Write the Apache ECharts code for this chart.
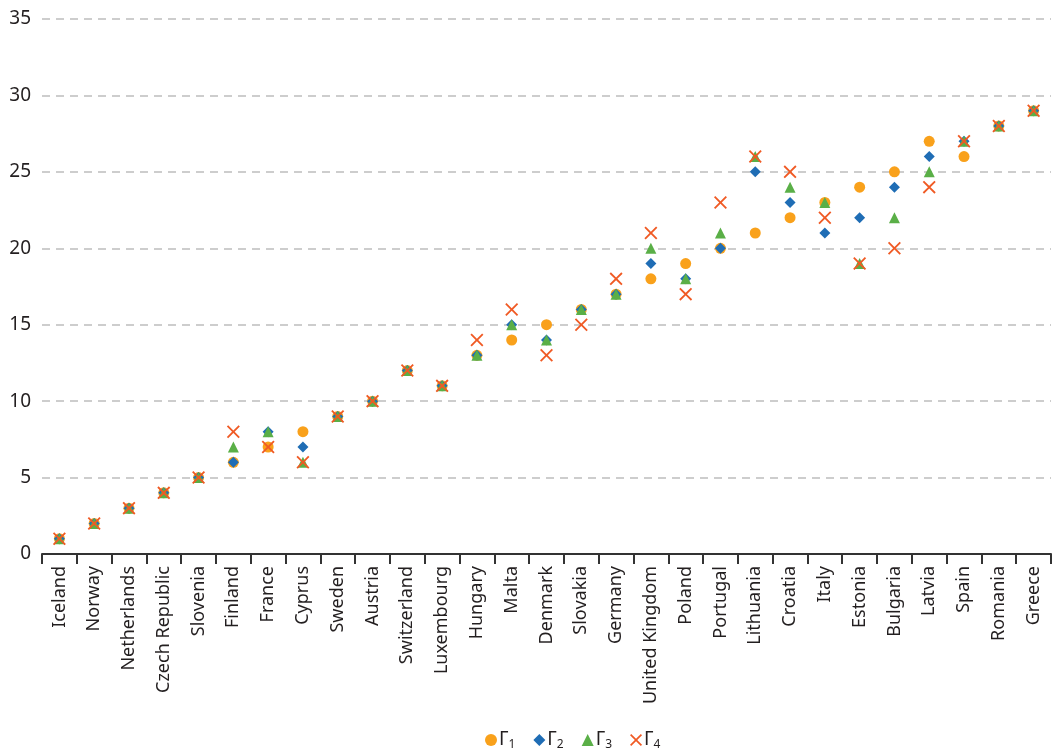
<!DOCTYPE html>
<html>
<head>
<meta charset="utf-8">
<script src="https://cdn.jsdelivr.net/npm/echarts@6/dist/echarts.min.js"></script>
<style>
  html, body { margin: 0; padding: 0; background: #fff; }
  #chart { width: 1052px; height: 754px; }
</style>
</head>
<body>
<div id="chart"></div>
<script>
// 国家（横轴类别）
const countries = ['Iceland', 'Norway', 'Netherlands', 'Czech Republic', 'Slovenia', 'Finland', 'France',
  'Cyprus', 'Sweden', 'Austria', 'Switzerland', 'Luxembourg', 'Hungary', 'Malta', 'Denmark', 'Slovakia',
  'Germany', 'United Kingdom', 'Poland', 'Portugal', 'Lithuania', 'Croatia', 'Italy', 'Estonia',
  'Bulgaria', 'Latvia', 'Spain', 'Romania', 'Greece']

// 四个指标的排名
const gamma1 = [1, 2, 3, 4, 5, 6, 7, 8, 9, 10, 12, 11, 13, 14, 15, 16, 17, 18, 19, 20, 21, 22, 23, 24, 25, 27, 26, 28, 29]
const gamma2 = [1, 2, 3, 4, 5, 6, 8, 7, 9, 10, 12, 11, 13, 15, 14, 16, 17, 19, 18, 20, 25, 23, 21, 22, 24, 26, 27, 28, 29]
const gamma3 = [1, 2, 3, 4, 5, 7, 8, 6, 9, 10, 12, 11, 13, 15, 14, 16, 17, 20, 18, 21, 26, 24, 23, 19, 22, 25, 27, 28, 29]
const gamma4 = [1, 2, 3, 4, 5, 8, 7, 6, 9, 10, 12, 11, 14, 16, 13, 15, 18, 21, 17, 23, 26, 25, 22, 19, 20, 24, 27, 28, 29]

const seriesNames = ['Γ1', 'Γ2', 'Γ3', 'Γ4']
const yTicks = { min: 0, max: 35, interval: 5 }

const crossPath = 'path://M1,0L5,4L9,0L10,1L6,5L10,9L9,10L5,6L1,10L0,9L4,5L0,1Z'

const chartInstance = echarts.init(document.getElementById('chart'))

const textColor = '#231f20'
const font = 'Noto Sans'

const option = {
  animation: false,
  grid: {
    top: 19,
    left: 42,
    right: 1,
    bottom: 200,
    containLabel: false
  },
  legend: {
    bottom: -2,
    left: 480,
    itemGap: 18,
    itemWidth: 12,
    itemHeight: 12,
    formatter: function (name) {
      return '{g|Γ}{s|' + name.slice(1) + '}'
    },
    textStyle: {
      color: textColor,
      fontFamily: font,
      rich: {
        g: { fontSize: 19, fontFamily: font, color: textColor, padding: [0, 0, 0, -3] },
        s: { fontSize: 12, fontFamily: font, color: textColor, verticalAlign: 'bottom', padding: [10, 0, 0, 0] }
      }
    },
    data: [
      { name: 'Γ1', icon: 'circle' },
      { name: 'Γ2', icon: 'diamond' },
      { name: 'Γ3', icon: 'triangle' },
      { name: 'Γ4', icon: crossPath }
    ]
  },
  xAxis: {
    type: 'category',
    data: countries,
    boundaryGap: true,
    axisLine: { lineStyle: { color: '#333', width: 2 } },
    axisTick: { show: true, length: 10, lineStyle: { color: '#333', width: 2 } },
    axisLabel: {
      rotate: 90,
      interval: 0,
      fontSize: 18,
      fontFamily: font,
      color: textColor,
      margin: 12
    },
    splitLine: { show: false }
  },
  yAxis: {
    type: 'value',
    min: yTicks.min,
    max: yTicks.max,
    interval: yTicks.interval,
    axisLine: { show: false },
    axisTick: { show: false },
    axisLabel: {
      fontSize: 19,
      fontFamily: font,
      color: textColor,
      margin: 11
    },
    splitLine: {
      lineStyle: { color: '#bdbdbd', width: 1.5, type: [8, 6] }
    }
  },
  series: [
    {
      name: seriesNames[0],
      type: 'scatter',
      symbol: 'circle',
      symbolSize: 11,
      itemStyle: { color: '#f9a11b', opacity: 1 },
      data: gamma1
    },
    {
      name: seriesNames[1],
      type: 'scatter',
      symbol: 'diamond',
      symbolSize: 11,
      itemStyle: { color: '#1f6db5', opacity: 1 },
      data: gamma2
    },
    {
      name: seriesNames[2],
      type: 'scatter',
      symbol: 'triangle',
      symbolSize: 11,
      itemStyle: { color: '#5aaf47', opacity: 1 },
      data: gamma3
    },
    {
      name: seriesNames[3],
      type: 'scatter',
      symbol: crossPath,
      symbolSize: 13,
      itemStyle: { color: '#f05a24', opacity: 1 },
      data: gamma4
    }
  ]
}

chartInstance.setOption(option)
</script>
</body>
</html>
